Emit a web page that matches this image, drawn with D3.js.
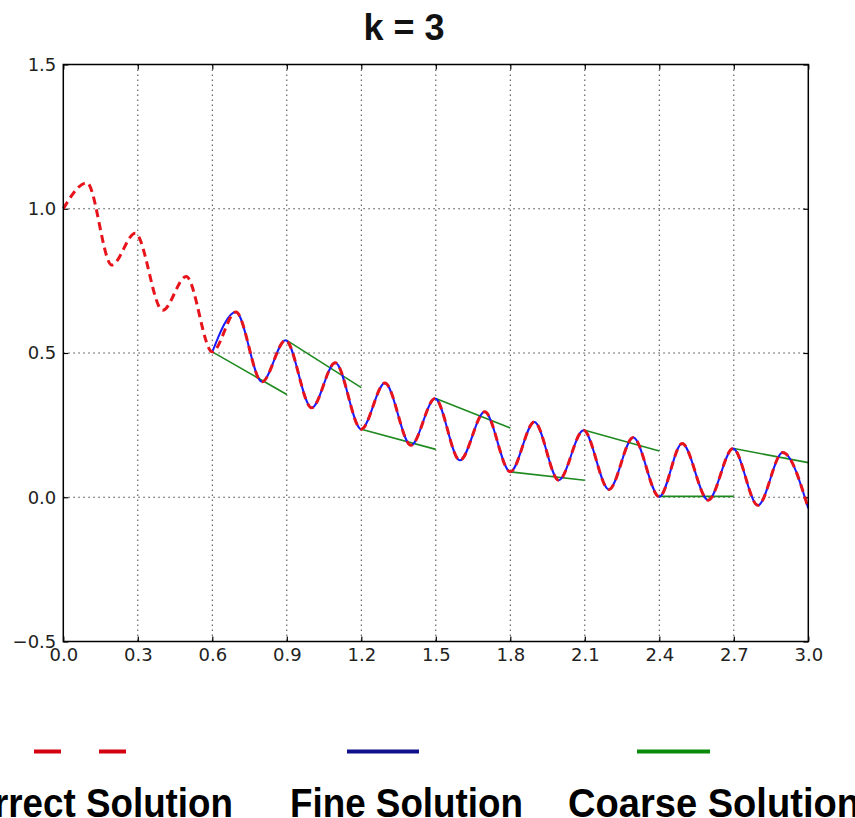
<!DOCTYPE html>
<html>
<head>
  <meta charset="utf-8">
  <title>k = 3</title>
  <style>
    body { margin: 0; background: #fff; }
    svg { display: block; }
  </style>
</head>
<body>
<script src="https://cdn.jsdelivr.net/npm/d3@7/dist/d3.min.js"></script>
<script>

    // values: extrema of the oscillating solution
    var times   = [0.0, 0.095, 0.195, 0.29, 0.40, 0.495, 0.60, 0.695, 0.80, 0.895, 1.00,
                   1.095, 1.20, 1.295, 1.40, 1.497, 1.597, 1.697, 1.80, 1.897, 1.995,
                   2.095, 2.197, 2.295, 2.40, 2.492, 2.597, 2.697, 2.797, 2.897, 3.00];
    var correct = [1.00, 1.09, 0.805, 0.915, 0.648, 0.765, 0.504, 0.642, 0.400, 0.544, 0.310,
                   0.466, 0.236, 0.396, 0.180, 0.342, 0.128, 0.296, 0.088, 0.261, 0.059,
                   0.232, 0.027, 0.207, 0.002, 0.186, -0.010, 0.169, -0.028, 0.155, -0.039];
    var fineFrom = 0.6;

    // coarse solution: one straight piece per interval
    var coarseT0 = [0.6, 0.9, 1.2, 1.5, 1.8, 2.1, 2.4, 2.7];
    var coarseT1 = [0.9, 1.2, 1.5, 1.8, 2.1, 2.4, 2.7, 3.0];
    var coarseY0 = [0.504, 0.544, 0.236, 0.342, 0.088, 0.232, 0.003, 0.169];
    var coarseY1 = [0.356, 0.380, 0.166, 0.240, 0.059, 0.160, 0.003, 0.120];

    var xTicks = [0.0, 0.3, 0.6, 0.9, 1.2, 1.5, 1.8, 2.1, 2.4, 2.7, 3.0];
    var yTicks = [-0.5, 0.0, 0.5, 1.0, 1.5];

    var legendNames = ["Correct Solution", "Fine Solution", "Coarse Solution"];

    var W = 855, H = 818;
    var pL = 63.3, pR = 808.3, pT = 64.5, pB = 641.5;

    var svg = d3.select("body").append("svg")
        .attr("width", W)
        .attr("height", H);

    var x = d3.scaleLinear().domain([0, 3]).range([pL, pR]);
    var y = d3.scaleLinear().domain([-0.5, 1.5]).range([pB, pT]);

    var pts = times.map(function(t, i) { return { t: t, v: correct[i] }; });
    var finePts = pts.filter(function(d) { return d.t >= fineFrom; });

    var line = d3.line()
        .x(function(d) { return x(d.t); })
        .y(function(d) { return y(d.v); })
        .curve(d3.curveMonotoneX);

    // title
    svg.append("text")
        .attr("x", 404)
        .attr("y", 40)
        .attr("text-anchor", "middle")
        .style("font-family", "Liberation Sans, Arial, sans-serif")
        .style("font-weight", "bold")
        .style("font-size", "36px")
        .style("fill", "#111")
        .text("k = 3");

    // grid
    var grid = svg.append("g")
        .attr("stroke", "#444")
        .attr("stroke-width", 1)
        .attr("stroke-dasharray", "1.5,3.5");

    grid.selectAll(".gx")
        .data(xTicks.slice(1, -1))
        .enter().append("line")
        .attr("x1", function(d) { return x(d); })
        .attr("x2", function(d) { return x(d); })
        .attr("y1", pT)
        .attr("y2", pB);

    grid.selectAll(".gy")
        .data(yTicks.slice(1, -1))
        .enter().append("line")
        .attr("x1", pL)
        .attr("x2", pR)
        .attr("y1", function(d) { return y(d); })
        .attr("y2", function(d) { return y(d); });

    // axes, ticks pointing inward
    var fmt = d3.format(".1f");

    svg.append("g")
        .attr("transform", "translate(0," + pB + ")")
        .call(d3.axisBottom(x).tickValues(xTicks).tickFormat(fmt)
              .tickSizeInner(-5).tickSizeOuter(0).tickPadding(7));

    svg.append("g")
        .attr("transform", "translate(" + pL + ",0)")
        .call(d3.axisLeft(y).tickValues(yTicks).tickFormat(fmt)
              .tickSizeInner(-5).tickSizeOuter(0).tickPadding(7));

    svg.append("g")
        .attr("transform", "translate(0," + pT + ")")
        .call(d3.axisTop(x).tickValues(xTicks).tickFormat("")
              .tickSizeInner(-5).tickSizeOuter(0));

    svg.append("g")
        .attr("transform", "translate(" + pR + ",0)")
        .call(d3.axisRight(y).tickValues(yTicks).tickFormat("")
              .tickSizeInner(-5).tickSizeOuter(0));

    svg.selectAll(".domain").remove();
    svg.selectAll(".tick line").attr("stroke", "#000").attr("stroke-width", 1.2);
    svg.selectAll(".tick text")
        .style("font-family", "DejaVu Sans, sans-serif")
        .style("font-size", "18px")
        .style("fill", "#222");

    // coarse pieces
    svg.append("g").selectAll("line")
        .data(coarseT0)
        .enter().append("line")
        .attr("x1", function(d) { return x(d); })
        .attr("y1", function(d, i) { return y(coarseY0[i]); })
        .attr("x2", function(d, i) { return x(coarseT1[i]); })
        .attr("y2", function(d, i) { return y(coarseY1[i]); })
        .attr("stroke", "#1f8a1f")
        .attr("stroke-width", 1.6);

    // fine solution
    svg.append("path")
        .datum(finePts)
        .attr("d", line)
        .attr("fill", "none")
        .attr("stroke", "#1a1aff")
        .attr("stroke-width", 2);

    // correct solution
    svg.append("path")
        .datum(pts)
        .attr("d", line)
        .attr("fill", "none")
        .attr("stroke", "#e8141c")
        .attr("stroke-width", 3)
        .attr("stroke-dasharray", "8,5");

    // frame
    svg.append("rect")
        .attr("x", pL)
        .attr("y", pT)
        .attr("width", pR - pL)
        .attr("height", pB - pT)
        .attr("fill", "none")
        .attr("stroke", "#000")
        .attr("stroke-width", 1.5);

    // legend below the plot
    var legY = 751.5;
    svg.append("line")
        .attr("x1", 34).attr("x2", 127)
        .attr("y1", legY).attr("y2", legY)
        .attr("stroke", "#d40010").attr("stroke-width", 4)
        .attr("stroke-dasharray", "27,38");
    svg.append("line")
        .attr("x1", 347).attr("x2", 419)
        .attr("y1", legY).attr("y2", legY)
        .attr("stroke", "#10108c").attr("stroke-width", 4);
    svg.append("line")
        .attr("x1", 637).attr("x2", 710)
        .attr("y1", legY).attr("y2", legY)
        .attr("stroke", "#0a8a0a").attr("stroke-width", 4);

    var legX = [-55, 290, 568];
    var legLen = [288, 233, 292];
    svg.selectAll(".leg")
        .data(legendNames)
        .enter().append("text")
        .attr("x", function(d, i) { return legX[i]; })
        .attr("y", 817)
        .attr("textLength", function(d, i) { return legLen[i]; })
        .attr("lengthAdjust", "spacingAndGlyphs")
        .style("font-family", "Liberation Sans, Arial, sans-serif")
        .style("font-weight", "bold")
        .style("font-size", "40px")
        .style("fill", "#000")
        .text(function(d) { return d; });

</script>
</body>
</html>
